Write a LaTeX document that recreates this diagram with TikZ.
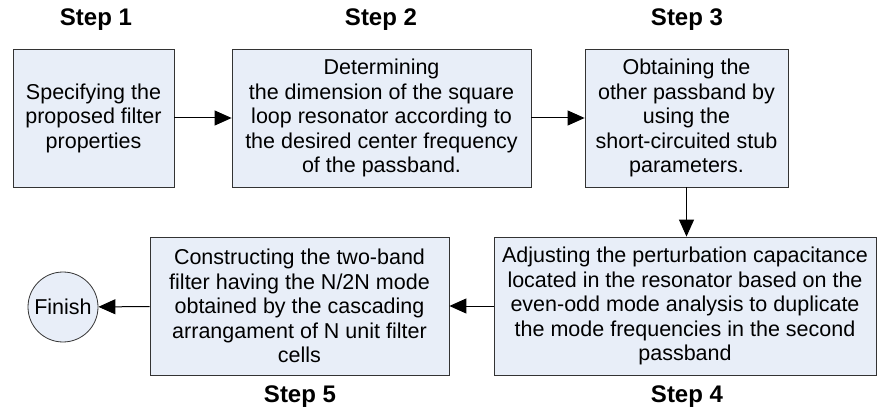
\documentclass[tikz,border=0pt]{standalone}
\usepackage{fontspec}
\setmainfont{Liberation Sans}
\usetikzlibrary{arrows.meta}
\begin{document}
\begin{tikzpicture}[x=1pt, y=-1pt,
	stepbox/.style={rectangle, fill=boxfill, draw=boxline, line width=0.8pt, minimum height=138pt, align=center, inner sep=2pt, font=\fontsize{21.5}{24.5}\selectfont},
	endnode/.style={circle, fill=boxfill, draw=boxline, line width=0.8pt, minimum size=70pt, inner sep=0pt, font=\fontsize{21.5}{24.5}\selectfont},
	steplabel/.style={font=\fontsize{24}{28}\selectfont\bfseries},
	link/.style={-{Triangle[length=17pt, width=15pt]}, line width=1pt}]
	    \definecolor{boxfill}{HTML}{E8EEF8}
	    \definecolor{boxline}{HTML}{333333}
	    \useasboundingbox (0,0) rectangle (877,419);
	    \node[steplabel] (l1) at (96, 20) {Step 1};
	    \node[steplabel] (l2) at (381, 20) {Step 2};
	    \node[steplabel] (l3) at (687, 20) {Step 3};
	    \node[steplabel] (l4) at (687, 397) {Step 4};
	    \node[steplabel] (l5) at (300, 397) {Step 5};
	    \node[stepbox, minimum width=161pt] (s1) at (93.5, 118) {Specifying the\\proposed filter\\properties};
	    \node[stepbox, minimum width=299pt] (s2) at (381.5, 118) {Determining\\the dimension of the square\\loop resonator according to\\the desired center frequency\\of the passband.};
	    \node[stepbox, minimum width=203pt] (s3) at (686.5, 118) {Obtaining the\\other passband by\\using the\\short-circuited stub\\parameters.};
	    \node[stepbox, minimum width=382pt] (s4) at (685, 306) {Adjusting the perturbation capacitance\\located in the resonator based on the\\even-odd mode analysis to duplicate\\the mode frequencies in the second\\passband};
	    \node[stepbox, minimum width=299pt] (s5) at (299.5, 306) {Constructing the two-band\\filter having the N/2N mode\\obtained by the cascading\\arrangament of N unit filter\\cells};
	    \node[endnode] (fin) at (63, 307) {Finish};
	    \draw[link] (s1) -- (s2);
	    \draw[link] (s2) -- (s3);
	    \draw[link] (s3.south) -- (s3.south |- s4.north);
	    \draw[link] (s4) -- (s5);
	    \draw[link] (s5) -- (fin);
	\end{tikzpicture}
\end{document}
